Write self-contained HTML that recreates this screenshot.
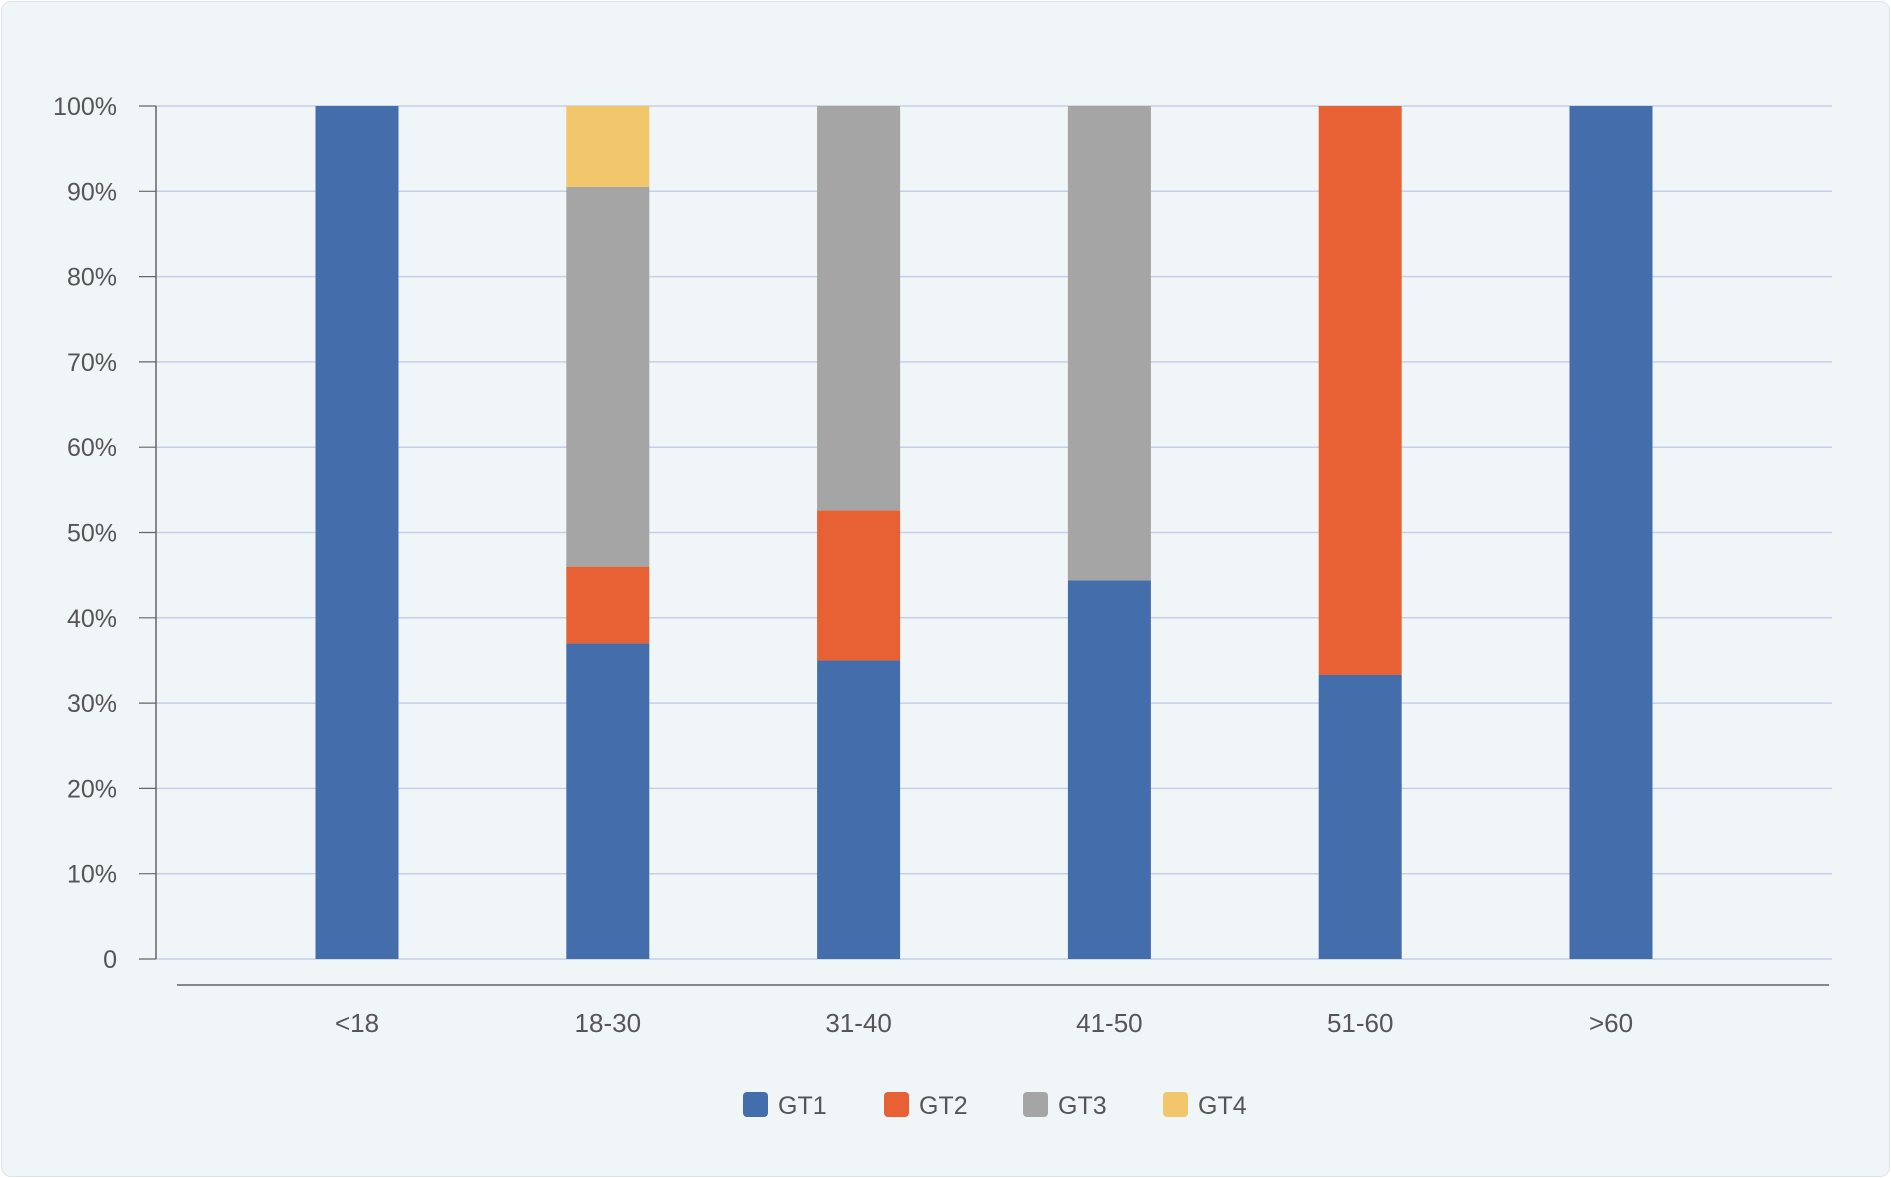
<!DOCTYPE html>
<html><head><meta charset="utf-8"><style>
html,body{margin:0;padding:0;background:#fff;}
#card{position:absolute;left:1px;top:1px;width:1887px;height:1174px;background:#f0f5f8;border:1px solid #dde5ea;border-radius:10px;}
svg{position:absolute;left:0;top:0;}
text{font-family:"Liberation Sans",sans-serif;fill:#555;}
</style></head><body>
<div id="card"></div>
<svg id="chart" width="1891" height="1178"></svg>
<script>
const categories=["<18","18-30","31-40","41-50","51-60",">60"];
const gt1=[100,37,35,44.4,33.3,100];
const gt2=[0,9,17.6,0,66.7,0];
const gt3=[0,44.5,47.4,55.6,0,0];
const gt4=[0,9.5,0,0,0,0];
const seriesNames=["GT1","GT2","GT3","GT4"];
const yTicks=[0,10,20,30,40,50,60,70,80,90,100];
const yTickLabels=["0","10%","20%","30%","40%","50%","60%","70%","80%","90%","100%"];

const colors=["#446eab","#e76135","#a5a5a5","#f2c76c"];
const svg=document.getElementById('chart');
const NS="http://www.w3.org/2000/svg";
const x0=156,x1=1832,yTop=106,yBot=959;
const y=v=>yBot-(v/100)*(yBot-yTop);
const xc=i=>357+i*250.8;
const bw=83;
function mk(t,a){const e=document.createElementNS(NS,t);for(const k in a)e.setAttribute(k,a[k]);svg.appendChild(e);return e;}
yTicks.forEach((t,i)=>{
  const g=mk('line',{x1:x0,x2:x1,y1:y(t),y2:y(t),stroke:'#c5d0e6','stroke-width':1.5});
  
  
  const tk=mk('line',{x1:139,x2:x0,y1:y(t),y2:y(t),stroke:'#666','stroke-width':1.2});
  
  
  const l=mk('text',{x:117,y:y(t)+9,'text-anchor':'end','font-size':25});
  l.textContent=yTickLabels[i];
  
  
});
const ax=mk('line',{x1:x0,x2:x0,y1:yTop,y2:yBot,stroke:'#666','stroke-width':1.5});


const xa=mk('line',{x1:177,x2:1829,y1:985,y2:985,stroke:'#888','stroke-width':2});


const all=[gt1,gt2,gt3,gt4];
categories.forEach((c,i)=>{
  let base=0;
  all.forEach((s,k)=>{
    const v=s[i];
    if(v>0){
      const r=mk('rect',{x:xc(i)-bw/2,y:y(base+v),width:bw,height:y(base)-y(base+v),fill:colors[k]});
      
      
    }
    base+=v;
  });
  const l=mk('text',{x:xc(i),y:1032,'text-anchor':'middle','font-size':26});
  l.textContent=c;
  
  
});
const lx=[743,884,1023,1163];
seriesNames.forEach((n,k)=>{
  const r=mk('rect',{x:lx[k],y:1092,width:25,height:25,rx:4,fill:colors[k]});
  
  
  const t=mk('text',{x:lx[k]+35,y:1114,'font-size':25});
  t.textContent=n;
  
  
});
</script>
</body></html>
